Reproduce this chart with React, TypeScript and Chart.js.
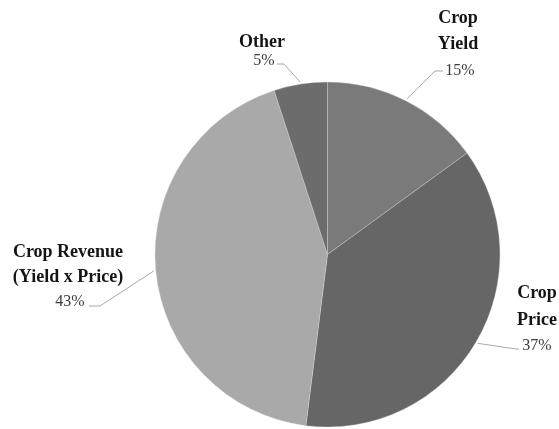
import React, { useEffect, useRef } from "react";
import { Chart, registerables } from "chart.js";

Chart.register(...registerables);

const categories = ["Crop Yield", "Crop Price", "Crop Revenue (Yield x Price)", "Other"];
const shares = [15, 37, 43, 5];
const percentLabels = ["15%", "37%", "43%", "5%"];
const nameLines = [["Crop", "Yield"], ["Crop", "Price"], ["Crop Revenue", "(Yield x Price)"], ["Other"]];
const sliceColors = ["#7a7a7a", "#666666", "#a9a9a9", "#6c6c6c"];

// layout for callouts (text centers and leader elbow/end points)
const calloutLayout = [
  { cx: 458, lineYs: [18, 44], pctX: 460, pctY: 71, elbow: [435, 71], end: [443, 71] },
  { cx: 537, lineYs: [293, 320], pctX: 537, pctY: 346, elbow: [516, 349], end: [519, 349] },
  { cx: 68, lineYs: [252, 277], pctX: 70, pctY: 302, elbow: [100, 306], end: [89, 306] },
  { cx: 262, lineYs: [42], pctX: 264, pctY: 61, elbow: [284, 64], end: [277, 64] },
];

const calloutPlugin = {
  id: "callouts",
  afterDraw(chart: any) {
    const ctx = chart.ctx;
    const meta = chart.getDatasetMeta(0);
    ctx.save();
    meta.data.forEach((arc: any, i: number) => {
      const p = arc.getProps(["x", "y", "startAngle", "endAngle", "outerRadius"], true);
      const mid = (p.startAngle + p.endAngle) / 2;
      const r = p.outerRadius + 2;
      const sx = p.x + Math.cos(mid) * r;
      const sy = p.y + Math.sin(mid) * r;
      const L = calloutLayout[i];
      ctx.strokeStyle = "#a8a8a8";
      ctx.lineWidth = 1;
      ctx.beginPath();
      ctx.moveTo(sx, sy);
      ctx.lineTo(L.elbow[0], L.elbow[1]);
      ctx.lineTo(L.end[0], L.end[1]);
      ctx.stroke();
      ctx.textAlign = "center";
      ctx.textBaseline = "middle";
      ctx.fillStyle = "#151515";
      ctx.font = "bold 18px 'Liberation Serif', 'DejaVu Serif', serif";
      nameLines[i].forEach((t, j) => ctx.fillText(t, L.cx, L.lineYs[j]));
      ctx.fillStyle = "#3c3c3c";
      ctx.font = "16px 'Liberation Serif', 'DejaVu Serif', serif";
      ctx.fillText(percentLabels[i], L.pctX, L.pctY);
    });
    ctx.restore();
  },
};

export default function App() {
  const ref = useRef<HTMLCanvasElement | null>(null);
  useEffect(() => {
    if (!ref.current) return;
    const chart = new Chart(ref.current, {
      type: "pie",
      data: {
        labels: categories,
        datasets: [
          {
            data: shares,
            backgroundColor: sliceColors,
            borderColor: "rgba(220,220,220,0.35)",
            borderWidth: 1,
          },
        ],
      },
      options: {
        animation: false,
        responsive: false,
        layout: { padding: { left: 154.5, right: 58.5, top: 81.5, bottom: 1.5 } },
        plugins: { legend: { display: false }, tooltip: { enabled: false } },
      },
      plugins: [calloutPlugin],
    });
    return () => chart.destroy();
  }, []);
  return (
    <div style={{ position: "fixed", left: 0, top: 0, width: 559, height: 429, background: "#fff" }}>
      <canvas ref={ref} width={559} height={429} />
    </div>
  );
}
